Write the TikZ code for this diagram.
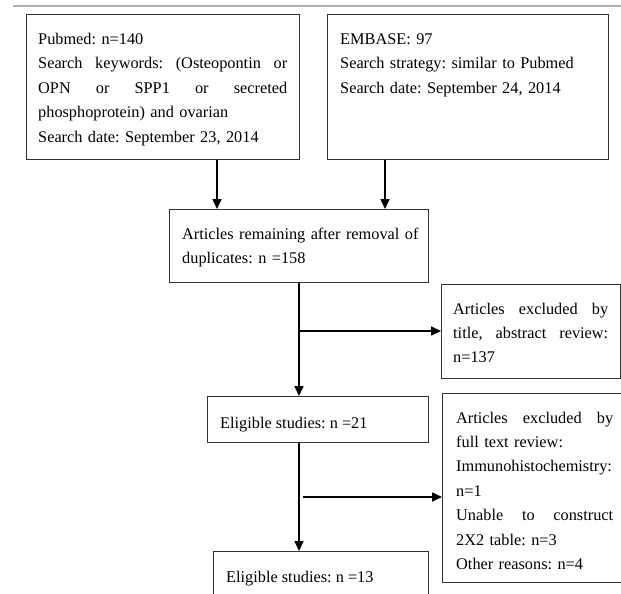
\documentclass[tikz,border=0pt]{standalone}
\usepackage{fontspec}
\setmainfont{Liberation Serif}
\frenchspacing
\usetikzlibrary{arrows.meta}
\tikzset{
  box/.style={draw=black!80, line width=0.8pt, inner sep=0pt, anchor=north west},
  txt/.style={anchor=base west, inner sep=0pt, align=left,
    font=\fontsize{16.3}{24.4}\selectfont\frenchspacing},
  arr/.style={line width=1.6pt, -{Triangle[length=10pt,width=9pt]}},
  lin/.style={line width=1.6pt}
}
\begin{document}
\begin{tikzpicture}[x=1pt,y=-1pt]
\useasboundingbox (0,0) rectangle (621,594);
\clip (0,0) rectangle (621,594);
\draw[gray!60, line width=1.6pt] (13,6) -- (621,6);
% boxes
\node[box, minimum width=273pt, minimum height=145pt] (b1) at (26,14) {};
\node[box, minimum width=281pt, minimum height=145pt] (b2) at (327,14) {};
\node[box, minimum width=259pt, minimum height=73pt] (b3) at (169,209) {};
\node[box, minimum width=179pt, minimum height=94pt] (b5) at (441,284) {};
\node[box, minimum width=221pt, minimum height=46pt] (b4) at (207,396) {};
\node[box, minimum width=200pt, minimum height=189pt] (b7) at (442,393) {};
\node[box, minimum width=215pt, minimum height=70pt] (b6) at (213,551) {};
% texts
\node[txt, text width=249pt] (t1) at (38,44.5) {Pubmed: n=140\\
Search\hfill keywords:\hfill (Osteopontin\hfill or\\
OPN\hfill or\hfill SPP1\hfill or\hfill secreted\\
phosphoprotein) and ovarian\\
Search date: September 23, 2014};
\node[txt, text width=262pt] (t2) at (340,44.5) {EMBASE: 97\\
Search strategy: similar to Pubmed\\
Search date: September 24, 2014};
\node[txt, text width=240pt] (t3) at (182,239.5) {Articles remaining after removal of\\
duplicates: n =158};
\node[txt, text width=155pt] (t5) at (453,314) {Articles\hfill excluded\hfill by\\
title,\hfill abstract\hfill review:\\
n=137};
\node[txt] (t4) at (220,428) {Eligible studies: n =21};
\node[txt, text width=157pt] (t7) at (456,423) {Articles\hfill excluded\hfill by\\
full text review:\\
Immunohistochemistry:\\
n=1\\
Unable\hfill to\hfill construct\\
2X2 table: n=3\\
Other reasons: n=4};
\node[txt] (t6) at (226,582) {Eligible studies: n =13};
% connectors
\coordinate (xa) at (217,0);
\coordinate (xb) at (385,0);
\coordinate (xc) at (299,0);
\coordinate (j1) at (299,331);
\coordinate (j2) at (303,497);
\draw[arr] (xa |- b1.south) -- (xa |- b3.north);
\draw[arr] (xb |- b2.south) -- (xb |- b3.north);
\draw[arr] (xc |- b3.south) -- (xc |- b4.north);
\draw[arr] (j1) -- (j1 -| b5.west);
\draw[arr] (xc |- b4.south) -- (xc |- b6.north);
\draw[arr] (j2) -- (j2 -| b7.west);
\end{tikzpicture}
\end{document}
